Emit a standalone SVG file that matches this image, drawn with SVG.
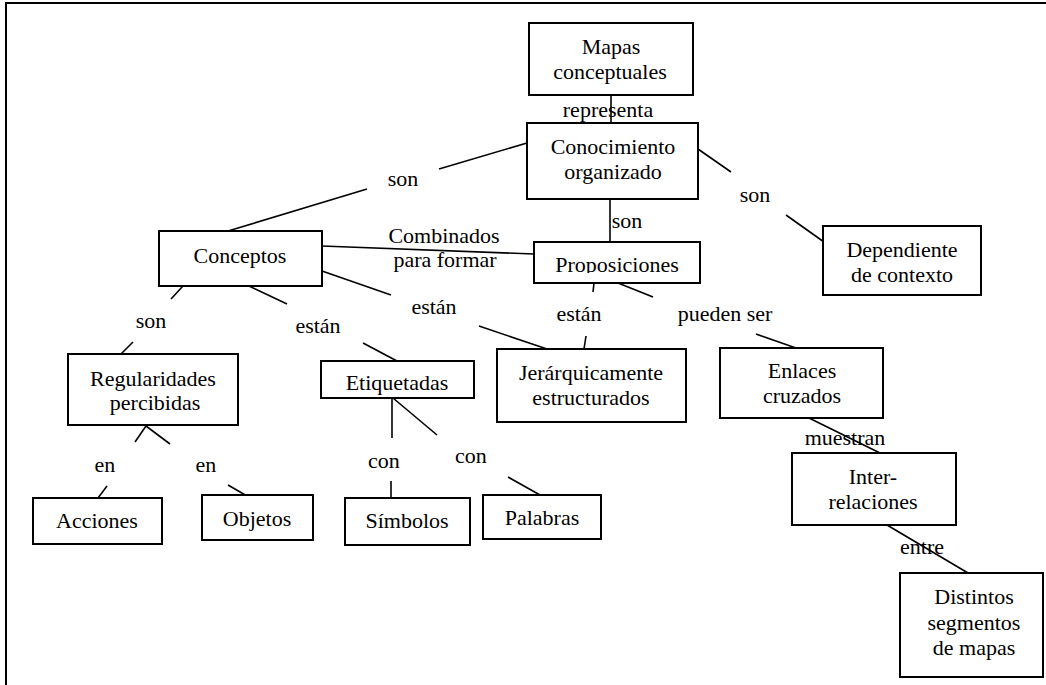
<svg xmlns="http://www.w3.org/2000/svg" width="1046" height="685" viewBox="0 0 1046 685">
<style>
.box{fill:#fff;stroke:#000;stroke-width:2}
.ln{stroke:#000;stroke-width:1.6;fill:none}
text{font-family:'Liberation Serif','Times New Roman','DejaVu Serif',serif;font-size:22px;fill:#000;text-anchor:middle}
</style>
<defs>
<clipPath id="clipProp"><rect x="534" y="242" width="167" height="31"/></clipPath>
</defs>
<rect x="0" y="0" width="1046" height="685" fill="#fff"/>
<path d="M6,700 V3 H1060" fill="none" stroke="#000" stroke-width="2"/>
<g id="connectors">
<line class="ln" x1="611" y1="95" x2="611" y2="123"/>
<line class="ln" x1="228" y1="231" x2="367" y2="189"/>
<line class="ln" x1="439" y1="169" x2="527" y2="143"/>
<line class="ln" x1="698" y1="149" x2="731" y2="172"/>
<line class="ln" x1="786" y1="215" x2="824" y2="242"/>
<line class="ln" x1="610" y1="199" x2="610" y2="242"/>
<line class="ln" x1="322" y1="246" x2="534" y2="254"/>
<line class="ln" x1="322" y1="271" x2="391" y2="295"/>
<line class="ln" x1="479" y1="326" x2="550" y2="350"/>
<line class="ln" x1="249" y1="286" x2="287" y2="304"/>
<line class="ln" x1="363" y1="343" x2="397" y2="361"/>
<line class="ln" x1="183" y1="286" x2="171" y2="299"/>
<line class="ln" x1="133" y1="342" x2="121" y2="354"/>
<line class="ln" x1="146" y1="426" x2="135" y2="442"/>
<line class="ln" x1="146" y1="426" x2="170" y2="444"/>
<line class="ln" x1="107" y1="486" x2="98" y2="498"/>
<line class="ln" x1="228" y1="485" x2="247" y2="496"/>
<line class="ln" x1="392" y1="398" x2="392" y2="438"/>
<line class="ln" x1="393" y1="398" x2="437" y2="435"/>
<line class="ln" x1="391" y1="481" x2="391" y2="498"/>
<line class="ln" x1="508" y1="477" x2="540" y2="495"/>
<line class="ln" x1="594" y1="283" x2="593" y2="292"/>
<line class="ln" x1="586" y1="336" x2="584" y2="349"/>
<line class="ln" x1="618" y1="283" x2="653" y2="297"/>
<line class="ln" x1="756" y1="334" x2="796" y2="348"/>
<line class="ln" x1="809" y1="418" x2="880" y2="453"/>
<line class="ln" x1="887" y1="525" x2="968" y2="573"/>
<text x="608" y="117">representa</text>
<text x="403" y="186">son</text>
<text x="755" y="202">son</text>
<text x="627" y="228">son</text>
<text x="444" y="243">Combinados</text>
<text x="445" y="267">para formar</text>
<text x="434" y="314">están</text>
<text x="318" y="333">están</text>
<text x="579" y="321">están</text>
<text x="725" y="321">pueden ser</text>
<text x="151" y="328">son</text>
<text x="105" y="472">en</text>
<text x="206" y="472">en</text>
<text x="384" y="468">con</text>
<text x="471" y="463">con</text>
<text x="845" y="445">muestran</text>
<text x="922" y="554">entre</text>
</g>
<g id="mapas"><rect class="box" x="529" y="23" width="164" height="72"/><text x="611" y="54">Mapas</text><text x="610" y="79">conceptuales</text></g>
<g id="conocimiento"><rect class="box" x="527" y="123" width="171" height="76"/><text x="613" y="154">Conocimiento</text><text x="613" y="179">organizado</text></g>
<g id="conceptos"><rect class="box" x="159" y="231" width="163" height="55"/><text x="240" y="263">Conceptos</text></g>
<g id="proposiciones"><rect class="box" x="534" y="242" width="166" height="41"/><text x="617" y="272" clip-path="url(#clipProp)">Proposiciones</text></g>
<g id="dependiente"><rect class="box" x="823" y="226" width="158" height="69"/><text x="902" y="257">Dependiente</text><text x="902" y="282">de contexto</text></g>
<g id="regularidades"><rect class="box" x="68" y="354" width="170" height="71"/><text x="153" y="386">Regularidades</text><text x="155" y="410">percibidas</text></g>
<g id="etiquetadas"><rect class="box" x="321" y="361" width="153" height="37"/><text x="397" y="390">Etiquetadas</text></g>
<g id="jerarquicamente"><rect class="box" x="497" y="349" width="189" height="73"/><text x="591" y="380">Jerárquicamente</text><text x="591" y="405">estructurados</text></g>
<g id="enlaces"><rect class="box" x="720" y="348" width="163" height="70"/><text x="802" y="378">Enlaces</text><text x="802" y="403">cruzados</text></g>
<g id="inter"><rect class="box" x="792" y="453" width="164" height="72"/><text x="873" y="484">Inter-</text><text x="873" y="509">relaciones</text></g>
<g id="distintos"><rect class="box" x="900" y="573" width="143" height="104"/><text x="974" y="604">Distintos</text><text x="974" y="630">segmentos</text><text x="974" y="655">de mapas</text></g>
<g id="acciones"><rect class="box" x="33" y="498" width="129" height="46"/><text x="97" y="528">Acciones</text></g>
<g id="objetos"><rect class="box" x="202" y="495" width="111" height="45"/><text x="257" y="526">Objetos</text></g>
<g id="simbolos"><rect class="box" x="345" y="498" width="125" height="47"/><text x="407" y="528">Símbolos</text></g>
<g id="palabras"><rect class="box" x="483" y="495" width="118" height="44"/><text x="542" y="525">Palabras</text></g>
</svg>
